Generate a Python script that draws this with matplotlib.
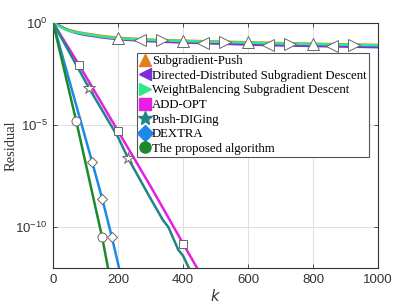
import matplotlib
matplotlib.use('Agg')
import matplotlib.pyplot as plt
from matplotlib.lines import Line2D
import numpy as np

# iterations and log10(residual)
k_slow = [0, 5, 10, 20, 35, 50, 75, 100, 150, 200, 300, 400, 500, 600, 700, 800, 900, 1000]
subgrad_push = [0, -0.04, -0.07, -0.14, -0.27, -0.35, -0.45, -0.52, -0.64, -0.73, -0.82, -0.87, -0.91, -0.95, -0.99, -1.02, -1.05, -1.08]
directed_dsd = [0, -0.03, -0.06, -0.15, -0.28, -0.39, -0.51, -0.59, -0.71, -0.80, -0.90, -0.96, -1.01, -1.06, -1.10, -1.13, -1.16, -1.19]
weight_bal = [0, -0.05, -0.09, -0.17, -0.30, -0.39, -0.48, -0.55, -0.67, -0.76, -0.84, -0.89, -0.93, -0.97, -1.01, -1.04, -1.07, -1.10]

k_addopt = [0, 80, 200, 300, 400, 443]
addopt = [0, -2.06, -5.3, -8.0, -10.8, -12.0]
k_pushdig = [0, 111, 200, 230, 300, 338, 355, 385, 400, 418]
pushdig = [0, -3.2, -5.6, -6.6, -8.6, -9.65, -10.0, -11.1, -11.4, -12.0]
k_dextra = [0, 120, 151, 181, 203]
dextra = [0, -6.8, -8.6, -10.5, -12.0]
k_prop = [0, 71, 151, 169]
proposed = [0, -4.8, -10.5, -12.0]

# marker positions on the curves
mk_up_k, mk_up_v = [200, 400, 600, 800], [-0.73, -0.87, -0.95, -1.02]
mk_left_k, mk_left_v = [268, 462, 662, 858], [-0.85, -0.99, -1.08, -1.14]
mk_right_k, mk_right_v = [335, 529, 729, 926], [-0.86, -0.94, -1.02, -1.08]
mk_sq_k, mk_sq_v = [80, 200, 400], [-2.06, -5.3, -10.8]
mk_star_k, mk_star_v = [111, 230], [-3.2, -6.6]
mk_dia_k, mk_dia_v = [120, 151, 181], [-6.8, -8.6, -10.5]
mk_circ_k, mk_circ_v = [71, 151], [-4.8, -10.5]

labels = ['Subgradient-Push', 'Directed-Distributed Subgradient Descent',
          'WeightBalencing Subgradient Descent', 'ADD-OPT', 'Push-DIGing',
          'DEXTRA', 'The proposed algorithm']
colors = ['#e0801e', '#7b2fd8', '#2ee88c', '#e61ee6', '#218585', '#1e88e8', '#1c8a2c']
markers = ['^', '<', '>', 's', '*', 'D', 'o']

fig = plt.figure(figsize=(4.15, 3.05), dpi=100)
ax = fig.add_axes([0.128, 0.121, 0.783, 0.804])

curves = [(k_slow, subgrad_push), (k_slow, directed_dsd), (k_slow, weight_bal),
          (k_addopt, addopt), (k_pushdig, pushdig), (k_dextra, dextra), (k_prop, proposed)]
for (kk, vv), c in zip(curves, colors):
    ax.semilogy(kk, 10.0 ** np.array(vv), color=c, lw=1.8, zorder=3)

mks = [(mk_up_k, mk_up_v, '^', 8.5), (mk_left_k, mk_left_v, '<', 8.5), (mk_right_k, mk_right_v, '>', 8.5),
       (mk_sq_k, mk_sq_v, 's', 6), (mk_star_k, mk_star_v, '*', 9), (mk_dia_k, mk_dia_v, 'D', 5.5),
       (mk_circ_k, mk_circ_v, 'o', 6.5)]
for kk, vv, m, s in mks:
    ax.plot(kk, 10.0 ** np.array(vv), ls='None', marker=m, ms=s, mfc='white',
            mec='#666666', mew=0.7, zorder=4)

ax.set_xlim(0, 1000)
ax.set_ylim(1e-12, 1)
ax.set_xticks([0, 200, 400, 600, 800, 1000])
ax.set_yticks([1e-10, 1e-5, 1e0])
ax.minorticks_off()
ax.grid(True, color='#e0e0e0', lw=0.7)
ax.set_axisbelow(True)
ax.tick_params(direction='in', top=True, right=True, length=3, width=0.6,
               labelsize=9.5, colors='#333333', pad=4)
for lab in ax.get_xticklabels() + ax.get_yticklabels():
    lab.set_family('Liberation Sans')
for sp in ax.spines.values():
    sp.set_color('#333333')
    sp.set_linewidth(0.8)

ax.set_ylabel('Residual', family='Liberation Serif', fontsize=10.5, color='#333333')
ax.yaxis.set_label_coords(-0.11, 0.5)
ax.set_xlabel('$k$', fontsize=10.5, color='#333333', labelpad=2)

handles = [Line2D([], [], ls='None', marker=m, color=c, mec=c, ms=8 if m != '*' else 10)
           for m, c in zip(markers, colors)]
leg = ax.legend(handles, labels, loc='upper left', bbox_to_anchor=(0.258, 0.878),
                prop={'family': 'Liberation Serif', 'size': 9.2}, frameon=True,
                fancybox=False, framealpha=1, edgecolor='#555555', handlelength=0.8,
                handletextpad=0.15, labelspacing=0.2, borderpad=0.2, borderaxespad=0)
leg.get_frame().set_linewidth(0.8)
leg.set_zorder(5)

fig.savefig('out.png', dpi=100)
